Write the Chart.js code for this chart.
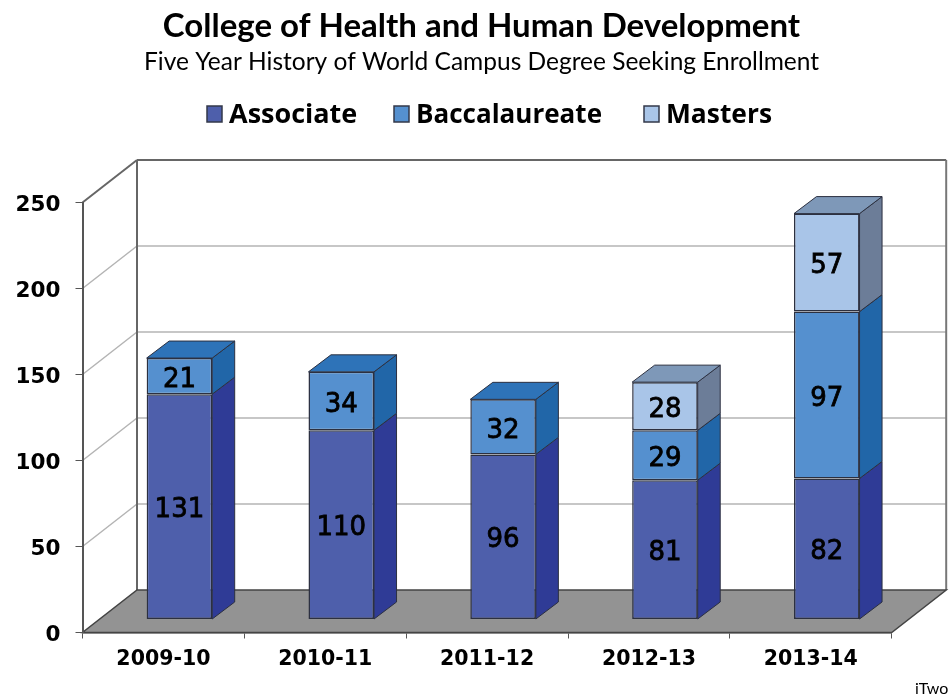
<!DOCTYPE html>
<html>
<head>
<meta charset="utf-8">
<style>
  html, body { margin: 0; padding: 0; background: #fff; }
  #wrap { width: 949px; height: 696px; }
</style>
<script src="https://cdn.jsdelivr.net/npm/chart.js@4/dist/chart.umd.min.js"></script>
</head>
<body>
<div id="wrap"><canvas id="chart" width="949" height="696"></canvas></div>
<script>
const years = ['2009-10', '2010-11', '2011-12', '2012-13', '2013-14'];
const associate = [131, 110, 96, 81, 82];
const baccalaureate = [21, 34, 32, 29, 97];
const masters = [null, null, null, 28, 57];
const yTicks = [0, 50, 100, 150, 200, 250];

// depth of the fake 3D box and of the bars inside it
const wallDX = 54.5, wallDY = -42.5;
const barShiftX = 16, barShiftY = -13;
const barDX = 22.5, barDY = -17;

const frontColors = ['#4e5fab', '#5590cf', '#a9c5e8'];
const sideColors = ['#2f3b96', '#2166a8', '#6c7d98'];
const topColors = ['#36469e', '#2e73b8', '#7e98b8'];
const edge = '#2c3040';

function poly(ctx, pts, fill, stroke, lw) {
	ctx.beginPath();
	pts.forEach((p, i) => i ? ctx.lineTo(p[0], p[1]) : ctx.moveTo(p[0], p[1]));
	ctx.closePath();
	if (fill) { ctx.fillStyle = fill; ctx.fill(); }
	if (stroke) { ctx.strokeStyle = stroke; ctx.lineWidth = lw || 1; ctx.stroke(); }
}

function line(ctx, x1, y1, x2, y2, color, lw) {
	ctx.beginPath();
	ctx.moveTo(x1, y1);
	ctx.lineTo(x2, y2);
	ctx.strokeStyle = color;
	ctx.lineWidth = lw;
	ctx.stroke();
}

const box3d = {
	id: 'box3d',
	// walls and floor go under everything
	beforeDraw(chart) {
		const { ctx, chartArea: { left, right, top, bottom }, scales: { y } } = chart;
		ctx.save();
		yTicks.forEach(v => {
			if (v === 0) return;
			const py = y.getPixelForValue(v);
			const color = v === 250 ? '#666' : '#b4b4b4';
			const lw = v === 250 ? 2 : 1.5;
			line(ctx, left, py, left + wallDX, py + wallDY, color, lw);
			line(ctx, left + wallDX, py + wallDY, right + wallDX, py + wallDY, color, lw);
		});
		line(ctx, left + wallDX, top + wallDY, left + wallDX, bottom + wallDY, '#666', 2);
		line(ctx, right + wallDX, top + wallDY, right + wallDX, bottom + wallDY, '#777', 2);
		poly(ctx, [[left, bottom], [right, bottom], [right + wallDX, bottom + wallDY], [left + wallDX, bottom + wallDY]], '#939393', '#444', 1.5);
		ctx.restore();
	},
	// sides and tops of the bars, then shift the library's own bars onto the floor
	beforeDatasetsDraw(chart) {
		const { ctx } = chart;
		ctx.save();
		ctx.translate(barShiftX, barShiftY);
		years.forEach((yr, i) => {
			let topSeg = null;
			chart.data.datasets.forEach((ds, d) => {
				if (ds.data[i] == null) return;
				const bar = chart.getDatasetMeta(d).data[i];
				const xr = bar.x + bar.width / 2;
				poly(ctx, [[xr, bar.base], [xr + barDX, bar.base + barDY], [xr + barDX, bar.y + barDY], [xr, bar.y]], sideColors[d], edge, 1);
				topSeg = { bar, d };
			});
			const { bar, d } = topSeg;
			const xl = bar.x - bar.width / 2, xr = bar.x + bar.width / 2;
			poly(ctx, [[xl, bar.y], [xl + barDX, bar.y + barDY], [xr + barDX, bar.y + barDY], [xr, bar.y]], topColors[d], edge, 1);
		});
	},
	afterDatasetsDraw(chart) {
		const { ctx } = chart;
		// value labels, still in the shifted space
		ctx.fillStyle = '#000';
		ctx.strokeStyle = '#000';
		ctx.lineWidth = 0.8;
		ctx.font = '26px "DejaVu Sans"';
		ctx.textAlign = 'center';
		ctx.textBaseline = 'middle';
		chart.data.datasets.forEach((ds, d) => {
			chart.getDatasetMeta(d).data.forEach((bar, i) => {
				if (ds.data[i] == null) return;
				const ty = (bar.y + bar.base) / 2 + 4;
				ctx.fillText(ds.data[i], bar.x, ty);
				ctx.strokeText(ds.data[i], bar.x, ty);
			});
		});
		ctx.restore();
	},
	afterDraw(chart) {
		const { ctx } = chart;
		ctx.save();
		// legend, spaced like the original
		const lx = [207, 394, 644];
		const lw = [129, 186, 106];
		ctx.font = 'bold 27px "Open Sans"';
		ctx.textBaseline = 'middle';
		ctx.textAlign = 'left';
		chart.data.datasets.forEach((ds, d) => {
			ctx.fillStyle = frontColors[d];
			ctx.fillRect(lx[d], 106, 15, 16);
			ctx.strokeStyle = '#33384a';
			ctx.lineWidth = 1.5;
			ctx.strokeRect(lx[d], 106, 15, 16);
			ctx.fillStyle = '#000';
			ctx.fillText(ds.label, lx[d] + 22, 115, lw[d]);
		});
		ctx.font = '16px Lato';
		ctx.fillText('iTwo', 915, 689);
		ctx.restore();
	}
};

new Chart(document.getElementById('chart'), {
	type: 'bar',
	data: {
		labels: years,
		datasets: [
			{ label: 'Associate', data: associate, backgroundColor: frontColors[0] },
			{ label: 'Baccalaureate', data: baccalaureate, backgroundColor: frontColors[1] },
			{ label: 'Masters', data: masters, backgroundColor: frontColors[2] }
		]
	},
	plugins: [box3d],
	options: {
		responsive: false,
		animation: false,
		// left padding keeps the title centred where the original has it
		layout: { padding: { left: 14, right: 0, top: 0, bottom: 0 } },
		datasets: {
			bar: {
				categoryPercentage: 1,
				barPercentage: 0.405,
				borderColor: edge,
				borderWidth: 1.5,
				borderSkipped: false,
				clip: false
			}
		},
		plugins: {
			legend: { display: false },
			tooltip: { enabled: false },
			title: {
				display: true,
				text: 'College of Health and Human Development',
				color: '#000',
				font: { family: 'Lato', size: 33, weight: 'bold', lineHeight: 1.2 },
				padding: { top: 7, bottom: 1 }
			},
			subtitle: {
				display: true,
				text: 'Five Year History of World Campus Degree Seeking Enrollment',
				color: '#000',
				font: { family: 'Lato', size: 24.5, lineHeight: 1.2 },
				padding: { top: 0, bottom: 125.5 }
			}
		},
		scales: {
			x: {
				stacked: true,
				afterFit(axis) { axis.height = 63.5; },
				border: { color: '#444', width: 1.5 },
				grid: { drawOnChartArea: false, tickLength: 6, tickColor: '#555', tickWidth: 1 },
				ticks: { color: '#000', padding: 9, maxRotation: 0, font: { family: 'DejaVu Sans', size: 20.5, weight: 'bold' } }
			},
			y: {
				stacked: true,
				min: 0,
				max: 250,
				afterFit(axis) { axis.width = 68.5; },
				afterBuildTicks(axis) { axis.ticks = yTicks.map(v => ({ value: v })); },
				border: { color: '#555', width: 2 },
				grid: { drawOnChartArea: false, tickLength: 7, tickColor: '#555', tickWidth: 1 },
				ticks: {
					color: '#000',
					padding: 15,
					autoSkip: false,
					// empty first line pushes the number half a lineHeight below its tick
					callback: v => ['', String(v)],
					font: { family: 'DejaVu Sans', size: 21.5, weight: 'bold', lineHeight: '5px' }
				}
			},
			// empty axis, only reserves the room the 3D floor sticks out into
			yRight: {
				position: 'right',
				afterFit(axis) { axis.width = 57.3; },
				border: { display: false },
				grid: { display: false },
				ticks: { display: false }
			}
		}
	}
});
</script>
</body>
</html>
